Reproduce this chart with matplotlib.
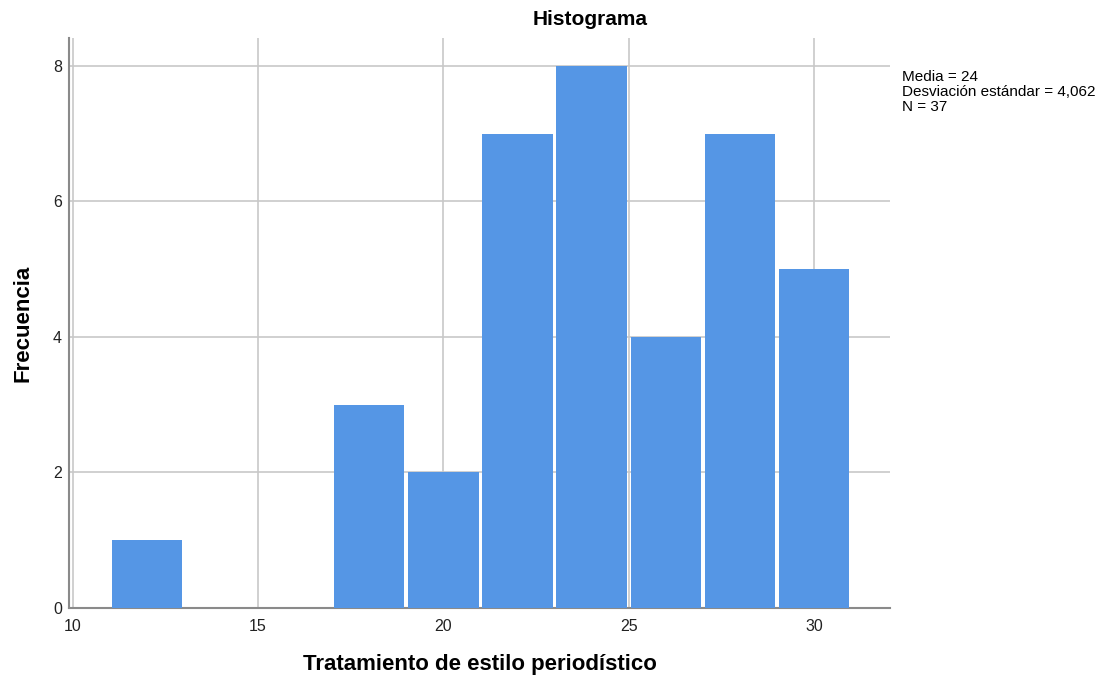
import matplotlib
matplotlib.use("Agg")
import matplotlib.pyplot as plt

plt.rcParams['font.family'] = ['Liberation Sans', 'DejaVu Sans']

bin_edges = [11, 13, 15, 17, 19, 21, 23, 25, 27, 29, 31]
counts = [1, 0, 0, 3, 2, 7, 8, 4, 7, 5]
x_ticks = [10, 15, 20, 25, 30]
y_ticks = [0, 2, 4, 6, 8]
stats_text = "Media = 24\nDesviación estándar = 4,062\nN = 37"

fig = plt.figure(figsize=(11.05, 6.84), dpi=100)
ax = fig.add_axes([0.0624, 0.1111, 0.743, 0.8333])

# small white gap between bars, drawn as a shrink of each bin
gap = 0.05
lefts = [a + gap for a in bin_edges[:-1]]
widths = [b - a - 2 * gap for a, b in zip(bin_edges[:-1], bin_edges[1:])]
ax.bar(lefts, counts, width=widths, align='edge', color='#5596e5',
       linewidth=0, zorder=3)

ax.set_xlim(9.9, 32.05)
ax.set_ylim(0, 8.41)
ax.set_xticks(x_ticks)
ax.set_yticks(y_ticks)
ax.grid(True, color='#c8c8c8', linewidth=1.2, zorder=0)
ax.tick_params(length=0, labelsize=11.5, pad=5, labelcolor='#222222')
ax.tick_params(axis='x', pad=8)

for side in ['top', 'right']:
    ax.spines[side].set_visible(False)
ax.spines['left'].set_color('#8a8a8a')
ax.spines['bottom'].set_color('#8a8a8a')
ax.spines['left'].set_linewidth(1.5)
ax.spines['bottom'].set_linewidth(1.5)

fig.text(0.534, 0.972, "Histograma", fontsize=15, fontweight='bold', ha='center', va='center')
ax.set_xlabel("Tratamiento de estilo periodístico", fontsize=16, fontweight='bold', labelpad=14)
ax.set_ylabel("Frecuencia", fontsize=16, fontweight='bold', labelpad=14)

fig.text(0.816, 0.898, stats_text, fontsize=11, va='top', ha='left', linespacing=1.08)

fig.savefig("out.png", dpi=100)
